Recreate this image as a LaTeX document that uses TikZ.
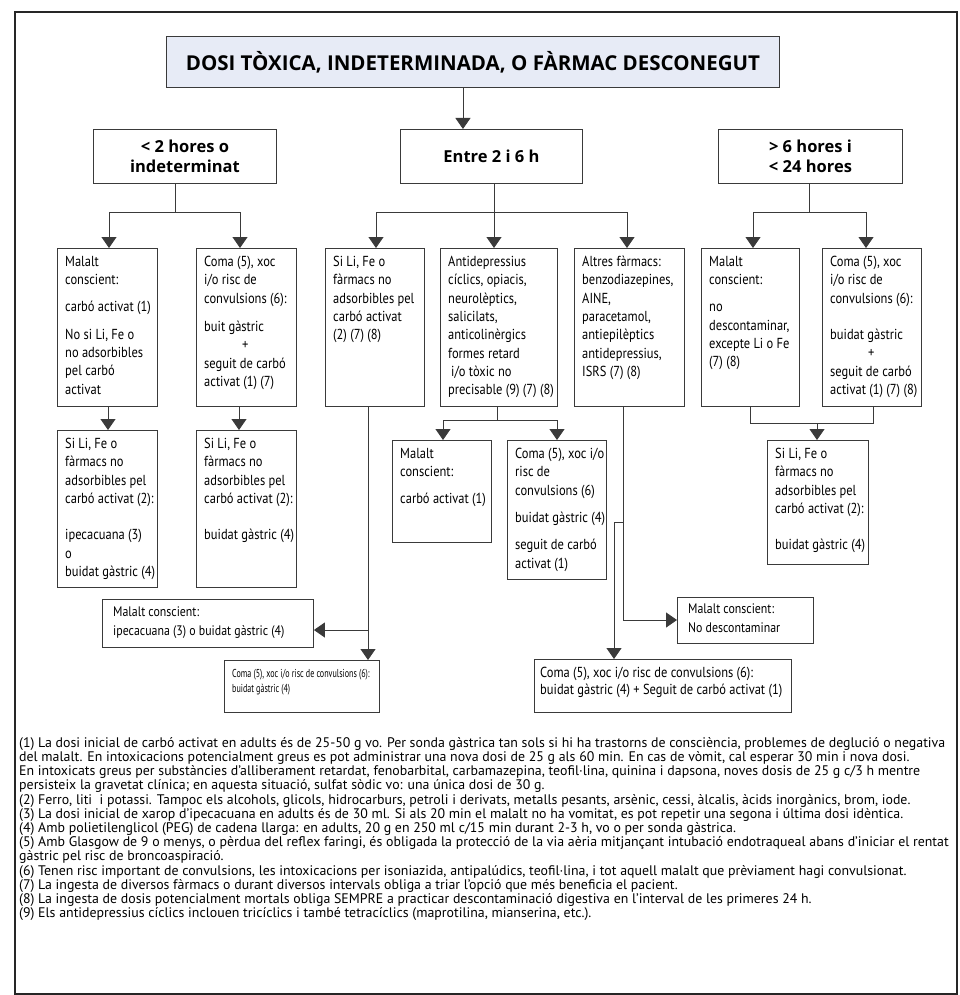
\documentclass[tikz,border=0pt]{standalone}
\usepackage{fontspec}
\setmainfont{PT Sans}
\newfontfamily\condsans[FakeStretch=0.86]{PT Sans}
\newfontfamily\narrowsans[FakeStretch=0.7]{PT Sans}
\newfontfamily\headsans{Open Sans}
\usepackage{tikz}
\usetikzlibrary{arrows.meta}

\definecolor{linec}{HTML}{3A3A3A}
\definecolor{titlefill}{HTML}{E7EBF6}

\newcommand\boxfont{\fontsize{14.5}{18.3}\selectfont\condsans}
\newcommand\lowfont{\fontsize{13.8}{18.3}\selectfont\condsans}

\begin{document}
\begin{tikzpicture}[x=1pt,y=-1pt,
  frame/.style={draw=linec,line width=0.9pt,inner sep=0pt,anchor=north west},
  box/.style 2 args={frame,minimum width=#1pt,minimum height=#2pt},
  hdr/.style 2 args={box={#1}{#2},align=center,font=\fontsize{16.5}{20}\selectfont\headsans\bfseries},
  txt/.style={anchor=north west,align=left,inner xsep=8pt,inner ysep=8pt,font=\boxfont},
  ln/.style={draw=linec,line width=0.9pt},
  arr/.style={ln,-{Triangle[width=15pt,length=11pt]}}]
  \useasboundingbox (0,0) rectangle (959,995);
  \draw[line width=2.4pt,draw=black!85] (15,12) rectangle (957,994);

  % top of the tree
  \node[box={613}{51},fill=titlefill,font=\fontsize{20.5}{22}\selectfont\headsans\bfseries]
    (title) at (166,36) {DOSI TÒXICA, INDETERMINADA, O FÀRMAC DESCONEGUT};
  \node[hdr={183}{54}] (t1) at (93,129) {< 2 hores o\\indeterminat};
  \node[hdr={182}{54}] (t2) at (400,129) {Entre 2 i 6 h};
  \node[hdr={184}{54}] (t3) at (718,129) {> 6 hores i\\< 24 hores};

  \draw[arr] ([xshift=-10pt]title.south) -- ([xshift=-10pt]title.south |- t2.north);

  % second row
  \node[box={100}{158}] (l1) at (57,248) {};
  \node[txt] (l1t) at (l1.north west) {Malalt\\conscient:\\[9pt]carbó activat (1)\\[9pt]No si Li, Fe o\\no adsorbibles\\pel carbó\\activat};
  \node[box={100}{158}] (l2) at (196,248) {};
  \node[txt] (l2t) at (l2.north west) {Coma (5), xoc\\i/o risc de\\convulsions (6):\\[10pt]buit gàstric\\\hspace*{38pt}+\\seguit de carbó\\activat (1) (7)};
  \node[box={99}{158}] (m1) at (325,248) {};
  \node[txt] (m1t) at (m1.north west) {Si Li, Fe o\\fàrmacs no\\adsorbibles pel\\carbó activat\\(2) (7) (8)};
  \node[box={117}{158}] (m2) at (440,248) {};
  \node[txt] (m2t) at (m2.north west) {Antidepressius\\cíclics, opiacis,\\neurolèptics,\\salicilats,\\anticolinèrgics\\formes retard\\\hspace*{3pt}i/o tòxic no\\precisable (9) (7) (8)};
  \node[box={110}{158}] (m3) at (574,248) {};
  \node[txt] (m3t) at (m3.north west) {Altres fàrmacs:\\benzodiazepines,\\AINE,\\paracetamol,\\antiepilèptics\\antidepressius,\\ISRS (7) (8)};
  \node[box={98}{158}] (r1) at (701,248) {};
  \node[txt] (r1t) at (r1.north west) {Malalt\\conscient:\\[9pt]no\\descontaminar,\\excepte Li o Fe\\(7) (8)};
  \node[box={99}{158}] (r2) at (822,248) {};
  \node[txt] (r2t) at (r2.north west) {Coma (5), xoc\\i/o risc de\\convulsions (6):\\[18pt]buidat gàstric\\\hspace*{38pt}+\\seguit de carbó\\activat (1) (7) (8)};

  \coordinate (j1) at (175,212);
  \coordinate (j1l) at (109,212);
  \coordinate (j1r) at (240,212);
  \draw[ln] (t1.south -| j1) -- (j1);
  \draw[ln] (j1l) -- (j1r);
  \draw[arr] (j1l) -- (j1l |- l1.north);
  \draw[arr] (j1r) -- (j1r |- l2.north);

  \coordinate (j2) at (494,212);
  \coordinate (j2l) at (376,212);
  \coordinate (j2r) at (627,212);
  \draw[ln] (t2.south -| j2) -- (j2);
  \draw[ln] (j2l) -- (j2r);
  \draw[arr] (j2l) -- (j2l |- m1.north);
  \draw[arr] (j2) -- (j2 |- m2.north);
  \draw[arr] (j2r) -- (j2r |- m3.north);

  \coordinate (j3) at (809,212);
  \coordinate (j3l) at (753,212);
  \coordinate (j3r) at (866,212);
  \draw[ln] (t3.south -| j3) -- (j3);
  \draw[ln] (j3l) -- (j3r);
  \draw[arr] (j3l) -- (j3l |- r1.north);
  \draw[arr] (j3r) -- (j3r |- r2.north);

  % third row
  \node[box={100}{157}] (l3) at (57,430) {};
  \node[txt] (l3t) at (l3.north west) {Si Li, Fe o\\fàrmacs no\\adsorbibles pel\\carbó activat (2):\\[18pt]ipecacuana (3)\\o\\buidat gàstric (4)};
  \node[box={100}{157}] (l4) at (196,430) {};
  \node[txt] (l4t) at (l4.north west) {Si Li, Fe o\\fàrmacs no\\adsorbibles pel\\carbó activat (2):\\[18pt]buidat gàstric (4)};
  \node[box={99}{102}] (m4) at (392,440) {};
  \node[txt] (m4t) at (m4.north west) {Malalt\\conscient:\\[9pt]carbó activat (1)};
  \node[box={99}{139}] (m5) at (507,440) {};
  \node[txt] (m5t) at (m5.north west) {Coma (5), xoc i/o\\risc de\\convulsions (6)\\[9pt]buidat gàstric (4)\\[9pt]seguit de carbó\\activat (1)};
  \node[box={101}{124}] (r3) at (767,440) {};
  \node[txt] (r3t) at (r3.north west) {Si Li, Fe o\\fàrmacs no\\adsorbibles pel\\carbó activat (2):\\[18pt]buidat gàstric (4)};

  \coordinate (k1) at (108,0);
  \coordinate (k2) at (239,0);
  \draw[arr] (l1.south -| k1) -- (k1 |- l3.north);
  \draw[arr] (l2.south -| k2) -- (k2 |- l4.north);

  \coordinate (j4) at (497,420);
  \coordinate (j4l) at (443,420);
  \coordinate (j4r) at (557,420);
  \draw[ln] (m2.south -| j4) -- (j4);
  \draw[ln] (j4l) -- (j4r);
  \draw[arr] (j4l) -- (j4l |- m4.north);
  \draw[arr] (j4r) -- (j4r |- m5.north);

  \coordinate (j5) at (817,423);
  \coordinate (j5l) at (750,423);
  \coordinate (j5r) at (873,423);
  \draw[ln] (r1.south -| j5l) -- (j5l) -- (j5r) -- (r2.south -| j5r);
  \draw[arr] (j5) -- (j5 |- r3.north);

  % last boxes
  \node[box={211}{48}] (n1) at (102,599) {};
  \node[txt,font=\lowfont,inner xsep=11pt,inner ysep=8pt] (n1t) at (n1.north west) {Malalt conscient:\\ipecacuana (3) o buidat gàstric (4)};
  \node[box={155}{52}] (b1) at (224,660) {};
  \node[txt,font=\fontsize{11.5}{15}\selectfont\narrowsans,inner xsep=8pt,inner ysep=9pt] (b1t) at (b1.north west) {Coma (5), xoc i/o risc de convulsions (6):\\buidat gàstric (4)};
  \node[box={136}{46}] (n2) at (677,597) {};
  \node[txt,font=\lowfont,inner xsep=11pt,inner ysep=7pt] (n2t) at (n2.north west) {Malalt conscient:\\No descontaminar};
  \node[box={257}{53}] (b2) at (534,659) {};
  \node[txt,font=\fontsize{14.5}{16.5}\selectfont\condsans,inner xsep=6pt,inner ysep=8pt] (b2t) at (b2.north west) {Coma (5), xoc i/o risc de convulsions (6):\\buidat gàstric (4) + Seguit de carbó activat (1)};

  \coordinate (j6) at (368,630);
  \draw[arr] (m1.south -| j6) -- (j6 |- b1.north);
  \draw[arr] (j6) -- (j6 -| n1.east);

  \coordinate (j7) at (623,522);
  \coordinate (j7b) at (614,522);
  \coordinate (j8) at (623,620);
  \draw[arr] (m3.south -| j7) -- (j8) -- (j8 -| n2.west);
  \draw[arr] (j7) -- (j7b) -- (j7b |- b2.north);

  % notes
  \node[anchor=north west,align=left,inner sep=0pt,font=\fontsize{13.88}{14.2}\selectfont] (notes) at (19,737) {%
(1) La dosi inicial de carbó activat en adults és de 25-50 g vo. Per sonda gàstrica tan sols si hi ha trastorns de consciència, problemes de deglució o negativa\\
del malalt. En intoxicacions potencialment greus es pot administrar una nova dosi de 25 g als 60 min. En cas de vòmit, cal esperar 30 min i nova dosi.\\
En intoxicats greus per substàncies d’alliberament retardat, fenobarbital, carbamazepina, teofil·lina, quinina i dapsona, noves dosis de 25 g c/3 h mentre\\
persisteix la gravetat clínica; en aquesta situació, sulfat sòdic vo: una única dosi de 30 g.\\
(2) Ferro, liti\ \ i potassi. Tampoc els alcohols, glicols, hidrocarburs, petroli i derivats, metalls pesants, arsènic, cessi, àlcalis, àcids inorgànics, brom, iode.\\
(3) La dosi inicial de xarop d’ipecacuana en adults és de 30 ml. Si als 20 min el malalt no ha vomitat, es pot repetir una segona i última dosi idèntica.\\
(4) Amb polietilenglicol (PEG) de cadena llarga: en adults, 20 g en 250 ml c/15 min durant 2-3 h, vo o per sonda gàstrica.\\
(5) Amb Glasgow de 9 o menys, o pèrdua del reflex faringi, és obligada la protecció de la via aèria mitjançant intubació endotraqueal abans d’iniciar el rentat\\
gàstric pel risc de broncoaspiració.\\
(6) Tenen risc important de convulsions, les intoxicacions per isoniazida, antipalúdics, teofil·lina, i tot aquell malalt que prèviament hagi convulsionat.\\
(7) La ingesta de diversos fàrmacs o durant diversos intervals obliga a triar l’opció que més beneficia el pacient.\\
(8) La ingesta de dosis potencialment mortals obliga SEMPRE a practicar descontaminació digestiva en l’interval de les primeres 24 h.\\
(9) Els antidepressius cíclics inclouen tricíclics i també tetracíclics (maprotilina, mianserina, etc.).};
\end{tikzpicture}
\end{document}
